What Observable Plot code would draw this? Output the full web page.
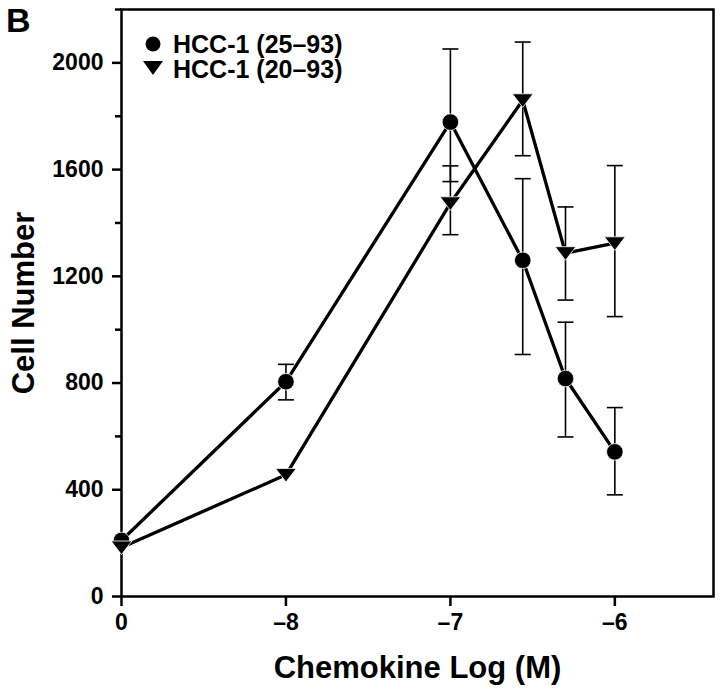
<!DOCTYPE html>
<html>
<head>
<meta charset="utf-8">
<script src="https://cdn.jsdelivr.net/npm/d3@7"></script>
<script src="https://cdn.jsdelivr.net/npm/@observablehq/plot@0.6"></script>
<style>
  body { margin: 0; background: #fff; }
  #wrap { position: relative; width: 720px; height: 690px; font-family: "Liberation Sans", Arial, Helvetica, sans-serif; }
  #wrap svg text { font-weight: bold; }
  #wrap g[aria-label="x-axis tick label"] text,
  #wrap g[aria-label="y-axis tick label"] text { font-size: 23px; }
  #wrap g[aria-label="x-axis label"] text,
  #wrap g[aria-label="y-axis label"] text { font-size: 31px; }
  #overlay { position: absolute; left: 0; top: 0; pointer-events: none; }
</style>
</head>
<body>
<div id="wrap"></div>
<script>
// ---- data ----
// x positions are log10 molar concentrations; -9 stands for the "0" (no chemokine) control
const xLog = [-9, -8, -7, -6.56, -6.3, -6];
const xTicks = [-9, -8, -7, -6];
const xTickLabels = ["0", "\u20138", "\u20137", "\u20136"];

const seriesNames = ["HCC-1 (25\u201393)", "HCC-1 (20\u201393)"];

const circleMean = [210, 805, 1778, 1260, 817, 542];
const circleLow  = [null, 737, 1555, 907, 598, 381];
const circleHigh = [null, 870, 2052, 1566, 1028, 708];

const triMean = [184, 456, 1474, 1860, 1287, 1324];
const triLow  = [null, null, 1356, 1652, 1111, 1049];
const triHigh = [null, null, 1614, 2078, 1460, 1615];

const yMajorTicks = [0, 400, 800, 1200, 1600, 2000];
const yMinorTicks = [200, 600, 1000, 1400, 1800, 2200];

// ---- build tables ----
function rows(mean, low, high, name) {
  return xLog.map((x, i) => ({x, y: mean[i], lo: low[i], hi: high[i], s: name}));
}
const circleRows = rows(circleMean, circleLow, circleHigh, seriesNames[0]);
const triRows = rows(triMean, triLow, triHigh, seriesNames[1]);
const allRows = circleRows.concat(triRows);
const errRows = allRows.filter(d => d.lo != null);
const capRows = errRows.flatMap(d => [{x: d.x, y: d.lo}, {x: d.x, y: d.hi}]);

// custom symbols
const triDown = {
  draw(ctx, size) {
    const r = Math.sqrt(size / Math.PI);
    const w = 1.3 * r, top = -0.8 * r, bot = 0.9 * r;
    ctx.moveTo(-w, top); ctx.lineTo(w, top); ctx.lineTo(0, bot); ctx.closePath();
  }
};
const capSym = {
  draw(ctx, size) {
    const r = Math.sqrt(size / Math.PI);
    ctx.moveTo(-r, 0); ctx.lineTo(r, 0);
  }
};

const chart = Plot.plot({
  width: 720,
  height: 690,
  marginLeft: 121,
  marginRight: 7,
  marginTop: 9,
  marginBottom: 94,
  style: {fontFamily: "'Liberation Sans', Arial, Helvetica, sans-serif", fontSize: "23px", color: "black", background: "white"},
  x: {domain: [-9, -5.4]},
  y: {domain: [0, 2200]},
  marks: [
    Plot.frame({strokeWidth: 2.5}),
    Plot.axisY(yMinorTicks, {tickSize: 6, strokeWidth: 2.5, tickFormat: () => "", label: null}),
    Plot.axisY(yMajorTicks, {tickSize: 9, tickPadding: 9, strokeWidth: 2.5, fontSize: 23,
      tickFormat: d => String(d),
      label: "Cell Number", labelAnchor: "center", labelArrow: "none", labelOffset: 110}),
    Plot.axisX(xTicks, {tickSize: 10, tickPadding: 7, strokeWidth: 2.5, fontSize: 23,
      tickFormat: d => xTickLabels[xTicks.indexOf(d)],
      label: "Chemokine Log (M)", labelAnchor: "center", labelArrow: "none", labelOffset: 81}),
    Plot.ruleX(errRows, {x: "x", y1: "lo", y2: "hi", stroke: "black", strokeWidth: 1.6}),
    Plot.dot(capRows, {x: "x", y: "y", symbol: capSym, r: 8, stroke: "black", strokeWidth: 1.6, fill: "none"}),
    Plot.line(allRows, {x: "x", y: "y", z: "s", stroke: "black", strokeWidth: 3.3}),
    Plot.dot(circleRows, {x: "x", y: "y", r: 8.3, symbol: "circle", fill: "black", stroke: "white", strokeWidth: 0.8}),
    Plot.dot(triRows, {x: "x", y: "y", r: 8, symbol: triDown, fill: "black", stroke: "white", strokeWidth: 0.8})
  ]
});

const wrap = document.getElementById("wrap");
wrap.appendChild(chart);

// overlay: panel letter + legend
const ns = "http://www.w3.org/2000/svg";
const ov = document.createElementNS(ns, "svg");
ov.setAttribute("id", "overlay");
ov.setAttribute("width", 720);
ov.setAttribute("height", 690);
function el(tag, attrs, text) {
  const e = document.createElementNS(ns, tag);
  for (const k in attrs) e.setAttribute(k, attrs[k]);
  if (text != null) e.textContent = text;
  ov.appendChild(e);
  return e;
}
el("text", {x: 6, y: 32, "font-size": 34, "font-weight": "bold", "font-family": "'Liberation Sans', Arial, sans-serif"}, "B");
el("circle", {cx: 153, cy: 44, r: 7.5, fill: "black"});
el("path", {d: "M143,61 L163,61 L153,75 Z", fill: "black"});
el("text", {x: 173, y: 53, "font-size": 25, "font-weight": "bold", "font-family": "'Liberation Sans', Arial, sans-serif"}, seriesNames[0]);
el("text", {x: 173, y: 78, "font-size": 25, "font-weight": "bold", "font-family": "'Liberation Sans', Arial, sans-serif"}, seriesNames[1]);
wrap.appendChild(ov);
</script>
</body>
</html>
